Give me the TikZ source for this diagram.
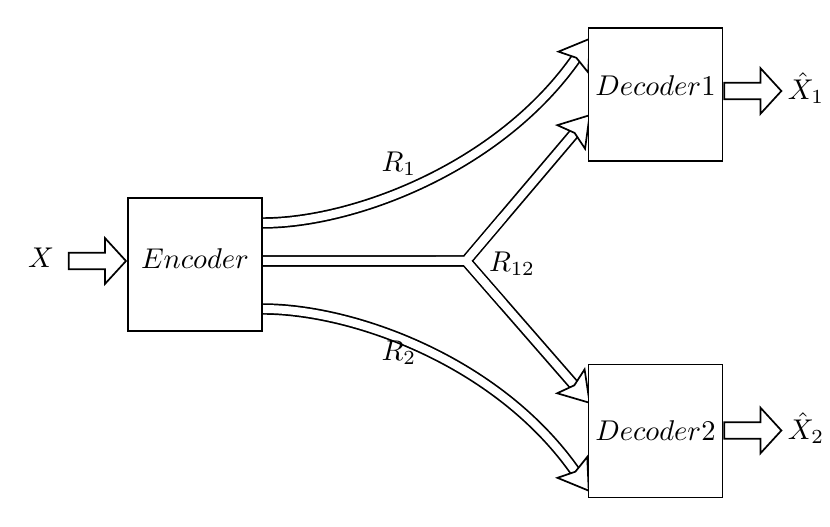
\documentclass[tikz,border=0pt]{standalone}
\usetikzlibrary{arrows.meta,calc,shapes.arrows}
\pgfdeclarelayer{bg}
\pgfsetlayers{bg,main}
\begin{document}
\begin{tikzpicture}[x=0.35pt,y=-0.35pt,
  box/.style={draw,line width=0.6pt,fill=white,minimum width=46.9pt,minimum height=46.55pt,inner sep=0pt},
  chan/.style={line width=0.6pt,double,double distance=2.8pt,-{Stealth[length=11pt,width=14pt,inset=2pt,fill=white]}},
  fatarr/.style={single arrow,draw,line width=0.6pt,inner xsep=0pt,inner ysep=2.6pt,minimum height=20pt,
     single arrow head extend=5.1pt,single arrow tip angle=95},
  lab/.style={inner sep=0pt}]
\useasboundingbox (0,0) rectangle (830,527);
\node[box,text depth=3.8pt] (enc) at (195,264.5) {$Encoder$};
\node[box,text depth=6.4pt] (dec1) at (655.5,94.5) {$Decoder1$};
\node[box] (dec2) at (655.5,431) {$Decoder2$};
\node[lab] (x) at (41,258) {$X$};
\node[lab] (xh1) at (806,88) {$\hat{X}_1$};
\node[lab] (xh2) at (806,428) {$\hat{X}_2$};
\node[lab] (r1) at (399,164) {$R_1$};
\node[lab] (r2) at (399,353) {$R_2$};
\node[lab] (r12) at (512,264) {$R_{12}$};
\node[fatarr,anchor=tip] (ain) at ($(enc.west)+(0,-3.5)$) {};
\node[fatarr,anchor=tail] (aout1) at ($(dec1.east)+(0,-3.5)$) {};
\node[fatarr,anchor=tail] (aout2) at ($(dec2.east)+(0,-0.5)$) {};
\coordinate (e1) at ($(enc.east)+(0,-41.5)$);
\coordinate (e0) at ($(enc.east)+(0,-3.5)$);
\coordinate (e2) at ($(enc.east)+(0,44.5)$);
\coordinate (J) at (466,261);
\coordinate (t1) at ($(dec1.west)+(3,-57)$);
\coordinate (t3) at ($(dec1.west)+(3,19.5)$);
\coordinate (t4) at ($(dec2.west)+(3,-27)$);
\coordinate (t2) at ($(dec2.west)+(2,61)$);
\begin{pgfonlayer}{bg}
\draw[chan] (e1) .. controls +(90,0) and +(-92,131) .. (t1);
\draw[chan] (e2) .. controls +(90,0) and +(-92,-131) .. (t2);
\draw[chan] (e0) -- (J) -- (t3);
\draw[chan] (e0) -- (J) -- (t4);
\draw[white,line width=2.8pt] ($(J)+(-30,0)$) -- (J) -- ($(J)!0.3!(t3)$);
\draw[white,line width=2.8pt] (J) -- ($(J)!0.3!(t4)$);
\end{pgfonlayer}
\end{tikzpicture}
\end{document}
